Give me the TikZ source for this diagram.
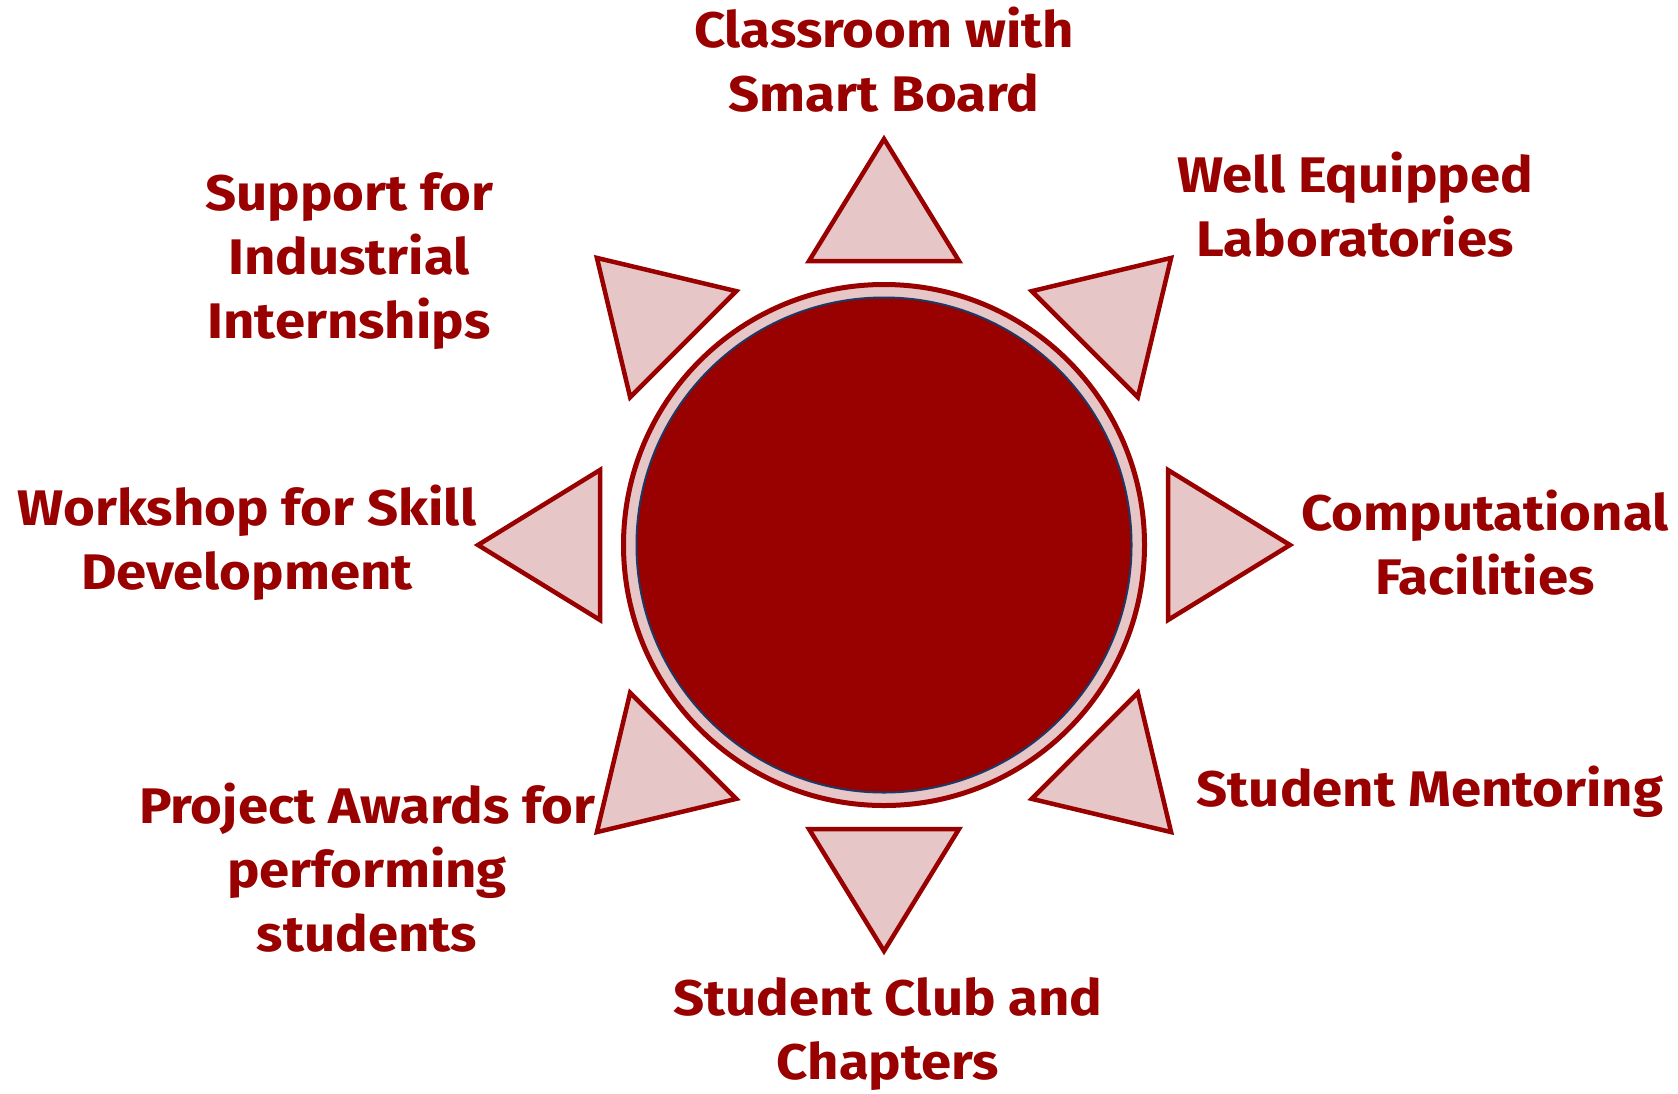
\documentclass[tikz,border=0pt]{standalone}
\usepackage{fontspec}
\setmainfont{Fira Sans}[FakeStretch=1.09]
\definecolor{dred}{HTML}{990000}
\definecolor{pinkf}{HTML}{E6C6C6}
\definecolor{navy}{HTML}{1F3864}
\begin{document}
\begin{tikzpicture}[x=1pt,y=-1pt,
  lbl/.style={text=dred, font=\fontsize{50}{64}\selectfont\bfseries, align=center, inner sep=0},
  tri/.style={draw=dred, fill=pinkf, line width=4.5pt, line join=miter}]
\useasboundingbox (0,0) rectangle (1678,1093);
\node[circle, draw=dred, fill=pinkf, line width=5pt, minimum size=521pt, inner sep=0] (ring) at (884,545) {};
\node[circle, draw=navy, fill=dred, line width=2pt, minimum size=495pt, inner sep=0] (core) at (884,545) {};
\foreach \a in {90,45,0,-45,-90,-135,180,135}
  \draw[tri, shift={(ring.center)}, rotate=\a] (284,-75) -- (406,0) -- (284,75) -- cycle;
\node[lbl] (cls) at (884,60) {Classroom with\\Smart Board};
\node[lbl] (well) at (1355,205) {Well Equipped\\Laboratories};
\node[lbl] (comp) at (1485,543) {Computational\\Facilities};
\node[lbl] (ment) at (1430,792) {Student Mentoring};
\node[lbl] (club) at (888,1034) {Student Club and\\Chapters};
\node[lbl] (proj) at (367,868) {Project Awards for\\performing\\students};
\node[lbl] (work) at (247,543) {Workshop for Skill\\Development};
\node[lbl] (supp) at (349,261) {Support for\\Industrial\\Internships};
\end{tikzpicture}
\end{document}
